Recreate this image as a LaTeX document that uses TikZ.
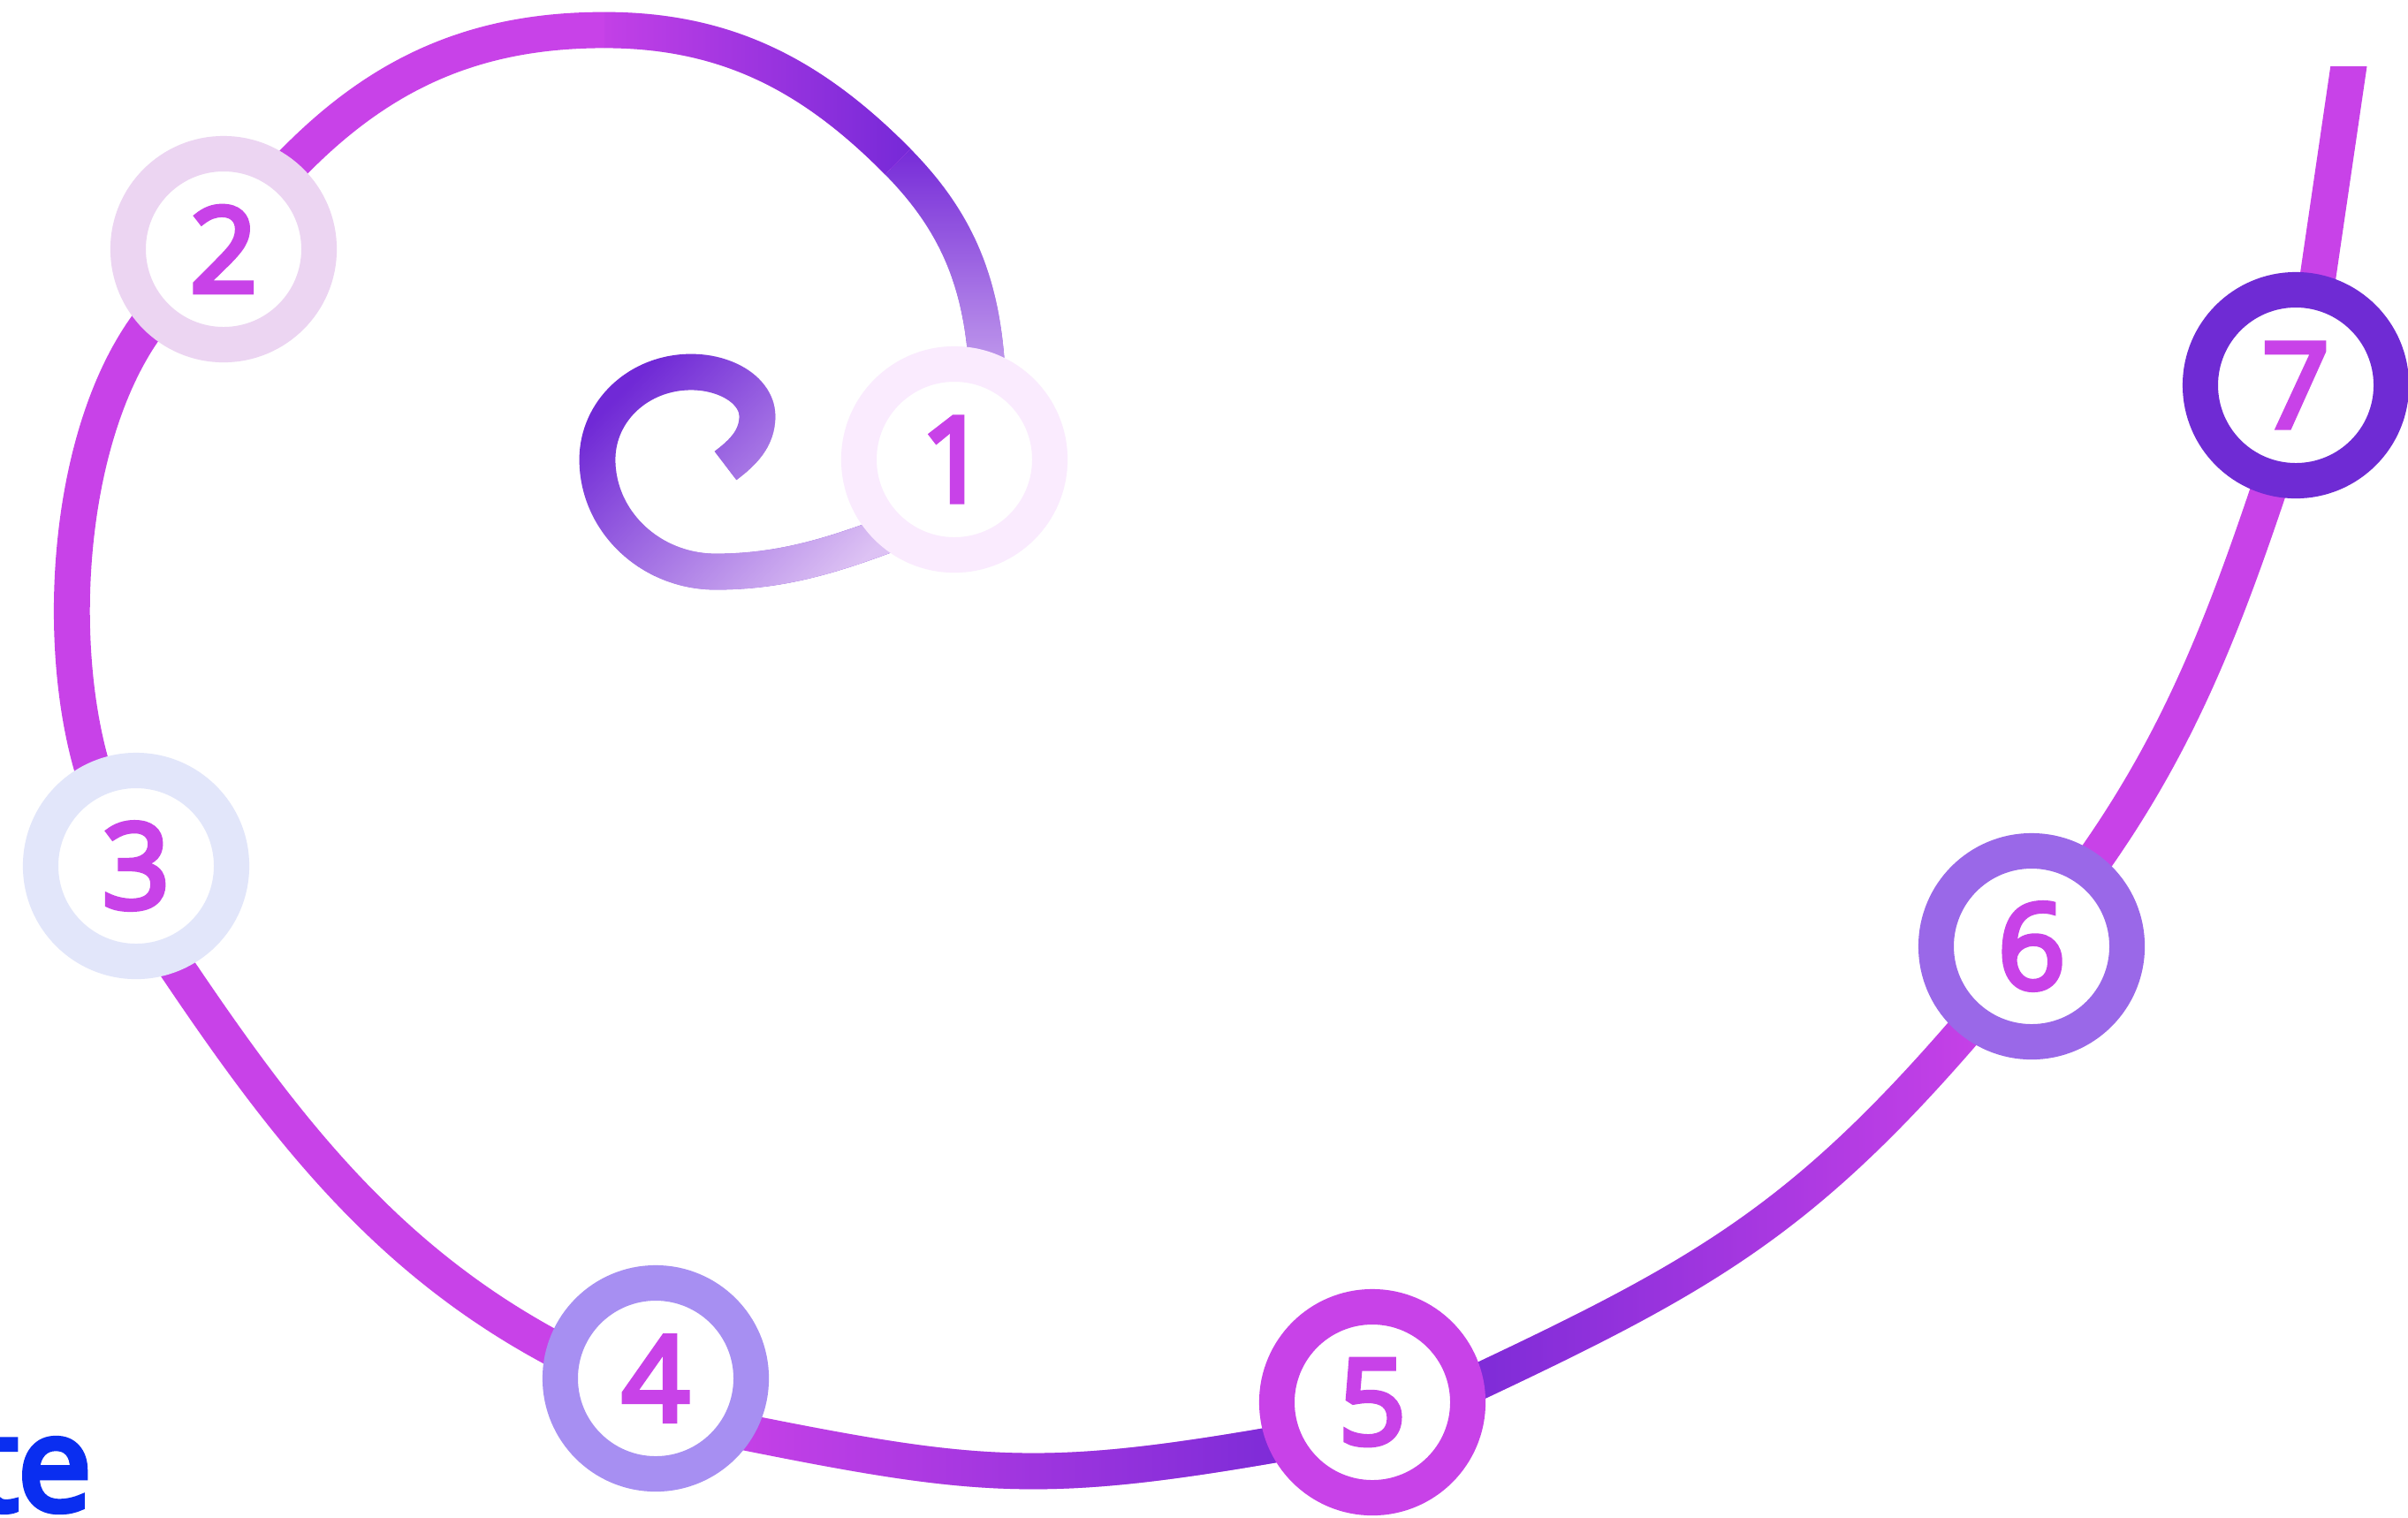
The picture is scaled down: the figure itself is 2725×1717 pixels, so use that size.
\documentclass[tikz,border=0pt]{standalone}
\usepackage{fontspec}
\setmainfont{Open Sans}
\newfontfamily\numfont{Open Sans}[FakeBold=4.5]
\newfontfamily\wordfont{Open Sans}[FakeBold=5]
\usetikzlibrary{fadings}
\pgfdeclarelayer{paper}
\pgfdeclarelayer{bg}
\pgfsetlayers{paper,bg,main}

\definecolor{mag}{HTML}{C842E8}
\definecolor{tblue}{HTML}{0A2EF0}
\definecolor{r1}{HTML}{FAEBFE}
\definecolor{r2}{HTML}{ECD5F2}
\definecolor{r3}{HTML}{E2E6FA}
\definecolor{r4}{HTML}{A78FF2}
\definecolor{r5}{HTML}{C842E8}
\definecolor{r6}{HTML}{9A68E8}
\definecolor{r7}{HTML}{6F2BD4}
\definecolor{deep}{HTML}{7029D6}
\definecolor{pale}{HTML}{DDC2F4}
\definecolor{lav}{HTML}{C7A4EE}
\definecolor{arcdeep}{HTML}{7529D8}
\definecolor{u1}{HTML}{7B2BD7}

\tikzfading[name=rampL, left color=transparent!100, right color=transparent!0]
\tikzfading[name=rampR, left color=transparent!0, right color=transparent!100]
\tikzfading[name=rampA2, left color=transparent!100, middle color=transparent!100, right color=transparent!0]
\tikzfading[name=rampDown, top color=transparent!100, bottom color=transparent!0]
\tikzfading[name=rampSpiral, left color=transparent!100, middle color=transparent!68, right color=transparent!0]

\tikzset{
  ring/.style={circle, draw=#1, line width=11.4pt, minimum size=2.16cm,
    fill=white, inner sep=0pt, outer sep=0pt, text=mag,
    font=\numfont\fontsize{38}{38}\selectfont},
  band/.style={line width=11.6pt, line cap=butt, line join=round},
}

\begin{document}
\begin{tikzpicture}[x=0.01cm, y=-0.01cm]
\begin{pgfonlayer}{paper}
\fill[white] (0,0) rectangle (2725,1717);
\end{pgfonlayer}
\useasboundingbox (0,0) rectangle (2725,1717);

% step circles
\node[ring=r1] (c1) at (1080,520) {1};
\node[ring=r2] (c2) at (253,282) {2};
\node[ring=r3] (c3) at (154,980) {3};
\node[ring=r4] (c4) at (742,1560) {4};
\node[ring=r5] (c5) at (1553,1587) {5};
\node[ring=r6] (c6) at (2299,1071) {6};
\node[ring=r7] (c7) at (2598,436) {7};

\coordinate (spend) at (821,527);
\coordinate (arcA) at (1016,183);
\coordinate (arcTop) at (684,34);
\coordinate (topend) at (2663,40);

\node[anchor=base east, inner sep=0pt, text=tblue,
  font=\wordfont\fontsize{42}{42}\selectfont] (word) at (104,1709) {te};

\begin{pgfonlayer}{bg}
% inner spiral -> 1
\draw[band, deep] (spend) .. controls (841,512) and (857,496) .. (857,471)
  .. controls (857,443) and (823,421) .. (782,421)
  .. controls (723,421) and (676,465) .. (676,520)
  .. controls (676,590) and (736,647) .. (810,647)
  .. controls (883,647) and (941,629) .. (c1.230);
\draw[band, pale, path fading=rampSpiral, fading angle=-35]
  (spend) .. controls (841,512) and (857,496) .. (857,471)
  .. controls (857,443) and (823,421) .. (782,421)
  .. controls (723,421) and (676,465) .. (676,520)
  .. controls (676,590) and (736,647) .. (810,647)
  .. controls (883,647) and (941,629) .. (c1.230);
% 1 -> 2 (top arc)
\draw[band, arcdeep] (c1.70) .. controls (1111,321) and (1084,252) .. (arcA);
\draw[band, lav, path fading=rampDown]
  (c1.70) .. controls (1111,321) and (1084,252) .. (arcA);
\draw[band, mag] (arcA) .. controls (919,85) and (822,34) .. (arcTop);
\draw[band, arcdeep, path fading=rampA2]
  (arcA) .. controls (919,85) and (822,34) .. (arcTop);
\draw[band, mag] (arcTop) .. controls (532,34) and (423,86) .. (c2.52);
% 2 -> 3
\draw[band, mag] (c2.224) .. controls (75,481) and (59,731) .. (c3.115);
% 3 -> 4
\draw[band, mag] (c3.290) .. controls (318,1271) and (435,1427) .. (c4.165);
% 4 -> 5
\draw[band, mag] (c4.327) .. controls (1107,1674) and (1179,1681) .. (c5.205);
\draw[band, u1, path fading=rampL]
  (c4.327) .. controls (1107,1674) and (1179,1681) .. (c5.205);
% 5 -> 6
\draw[band, mag] (c5.9) .. controls (1928,1444) and (2040,1381) .. (c6.232);
\draw[band, u1, path fading=rampR]
  (c5.9) .. controls (1928,1444) and (2040,1381) .. (c6.232);
% 6 -> 7
\draw[band, mag] (c6.54) .. controls (2465,841) and (2516,708) .. (c7.256);
% 7 -> free top end
\begin{scope}
  \clip (0,75) rectangle (2725,1717);
  \draw[band, mag] (c7.78) -- (topend);
\end{scope}
\end{pgfonlayer}
\end{tikzpicture}
\end{document}
